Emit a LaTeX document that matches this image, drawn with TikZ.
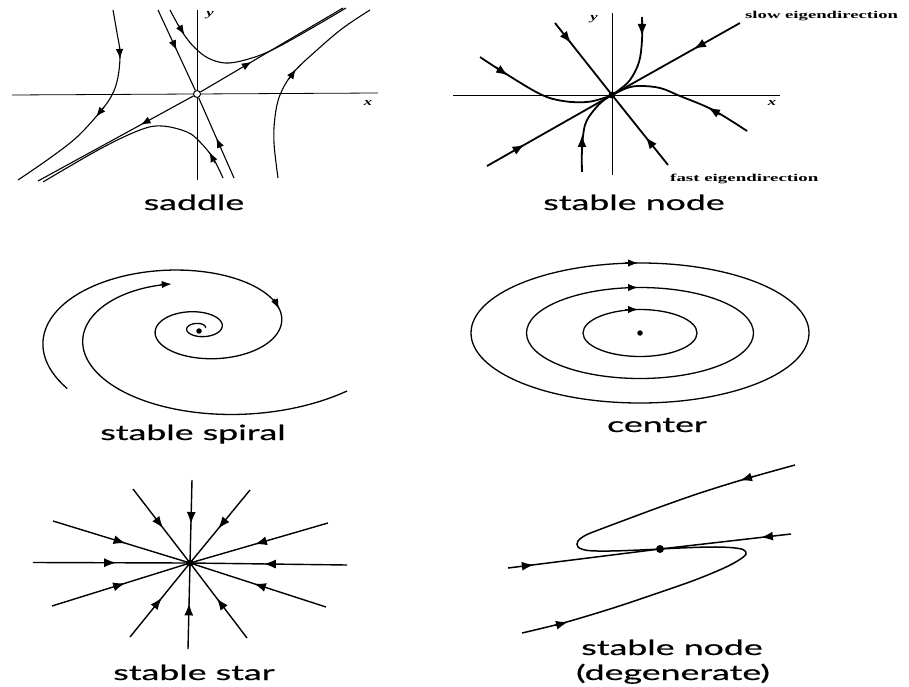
\documentclass[tikz,border=0pt]{standalone}
\usepackage{fontspec}
\usepackage{graphicx}
\setmainfont{Liberation Serif}
\newfontfamily\lblfont[FakeBold=0.5]{Lato}
\usetikzlibrary{arrows.meta,decorations.markings}
\newcommand\wide[2][1.7]{\scalebox{#1}[1]{#2}}
\tikzset{
  ar/.style={postaction={decorate,decoration={markings,mark=at position #1 with {\arrow{Latex[length=10pt,width=7.5pt]}}}}},
  arb/.style={postaction={decorate,decoration={markings,mark=at position #1 with {\arrow{Latex[length=12pt,width=9pt]}}}}},
  atip/.style={-{Latex[length=10pt,width=7.5pt]}},
  btip/.style={-{Latex[length=12pt,width=9pt]}},
  lbl/.style={font=\lblfont\fontsize{21}{24}\selectfont, anchor=base, inner sep=0},
  small/.style={font=\bfseries\fontsize{10.5}{12}\selectfont, anchor=base west, inner sep=0},
  axlbl/.style={font=\bfseries\itshape\fontsize{11}{12}\selectfont, inner sep=0},
  axis/.style={line width=0.8pt},
  thinc/.style={line width=1.1pt},
  thickc/.style={line width=1.8pt},
  midc/.style={line width=1.3pt},
  opendot/.style={circle, draw, fill=white, line width=1pt, inner sep=0, minimum size=7pt},
  dot/.style={circle, fill=black, inner sep=0, minimum size=#1},
}
\begin{document}
\begin{tikzpicture}[x=1pt,y=-1pt]
\useasboundingbox (0,0) rectangle (909,687);

% ---------------- saddle ----------------
\draw[axis] (12,95) -- (378,93);
\draw[axis] (197,10) -- (197,180);
\node[axlbl] (Sy) at (210,15) {\wide[1.5]{y}};
\node[axlbl] (Sx) at (368,103) {\wide[1.5]{x}};
\node[opendot] (SO) at (197,94) {};
\coordinate (SsA) at (158,10);
\coordinate (SsB) at (234,178);
\coordinate (SuA) at (343,8);
\coordinate (SuB) at (38,181);
\draw[thinc,ar=0.5] (SsA) -- (SO);
\draw[thinc,ar=0.5] (SsB) -- (SO);
\draw[thinc,ar=0.36] (SO) -- (SuA);
\draw[thinc,ar=0.34] (SO) -- (SuB);
\draw[thinc] plot[smooth,tension=0.6] coordinates {(170,10) (177,23) (185,36) (195,48) (208,58) (225,63) (245,60) (270,51) (305,32) (346,8)};
\draw[thinc,atip] (178.5,25) -- (184.5,35);
\draw[thinc] plot[smooth,tension=0.6] coordinates {(223,178) (213,158) (200,142) (187,132) (162,126) (140,130) (100,149) (43,182)};
\draw[thinc,atip] (215,163) -- (209.5,152);
\draw[thinc] plot[smooth,tension=0.6] coordinates {(113,10) (117,33) (120,53) (118,77) (112,95) (100,112) (77,137) (50,158) (18,180)};
\draw[thinc,atip] (119.5,47) -- (120,59);
\draw[thinc,atip] (104,107) -- (96,117);
\draw[thinc] plot[smooth,tension=0.6] coordinates {(278,178) (274,143) (275,117) (280,95) (293,73) (317,50) (343,28) (370,10)};
\draw[thinc,atip] (289,79) -- (296,69);
\node[lbl] (Lsaddle) at (194,210) {\wide{saddle}};

% ---------------- stable node ----------------
\draw[axis] (453,95) -- (780,95);
\draw[axis] (612,13) -- (612,175);
\node[axlbl] (Ny) at (594,19) {\wide[1.5]{y}};
\node[axlbl] (Nx) at (772,103) {\wide[1.5]{x}};
\node[dot=7pt] (NO) at (612,95) {};
\coordinate (NslA) at (487,166);
\coordinate (NslB) at (740,23);
\coordinate (NfA) at (555,23);
\coordinate (NfB) at (668,165);
\draw[thickc,arb=0.3] (NslA) -- (NO.center);
\draw[thickc,arb=0.36] (NslB) -- (NO.center);
\draw[thickc,arb=0.28] (NfA) -- (NO.center);
\draw[thickc,arb=0.4] (NfB) -- (NO.center);
\draw[thickc] plot[smooth,tension=0.6] coordinates {(642,17) (642,40) (639,62) (630,80) (619,90) (612,95)};
\draw[thickc,btip] (642,23) -- (642,36);
\draw[thickc] plot[smooth,tension=0.6] coordinates {(582,172) (582,150) (585,125) (594,110) (604,100) (612,95)};
\draw[thickc,btip] (582,149) -- (582,135);
\draw[thickc] plot[smooth,tension=0.6] coordinates {(480,57) (503,72) (540,94) (563,101) (587,102) (604,98) (612,95)};
\draw[thickc,btip] (496,67.5) -- (508,75.5);
\draw[thickc] plot[smooth,tension=0.6] coordinates {(747,131) (713,110) (680,96) (660,88) (640,86) (627,88) (612,95)};
\draw[thickc,btip] (720,114.5) -- (708,107.5);
\node[small] (Nslow) at (745,19) {\wide[1.78]{slow eigendirection}};
\node[small] (Nfast) at (670,181) {\wide[1.8]{fast eigendirection}};
\node[lbl] (Lnode) at (634,210) {\wide{stable node}};

% ---------------- stable spiral ----------------
\draw[midc]
  plot[domain=138:1080,samples=320,variable=\t] ({199+153*exp(-0.003526*(\t-180))*cos(\t)},{328+78*exp(-0.003526*(\t-180))*sin(\t)});
\draw[midc,atip] (274.2,299) -- (279,309);
\draw[midc]
  plot[domain=38:247,samples=80,variable=\t] ({199+114*exp(-0.003526*(\t-180))*cos(\t)},{329+61*exp(-0.003526*(\t-180))*sin(\t)});
\draw[midc,atip] (160.7,284.6) -- (171.7,284);
\node[dot=5.5pt] (SpO) at (199,331) {};
\node[lbl] (Lspiral) at (193,440) {\wide{stable spiral}};

% ---------------- center ----------------
\node[dot=5.5pt] (CO) at (640,333) {};
\draw[midc] (CO.center) ellipse[x radius=57,y radius=23.5];
\draw[midc] (CO.center) ellipse[x radius=113.5,y radius=45.5];
\draw[midc] (CO.center) ellipse[x radius=169,y radius=70];
\draw[midc,atip] (625,309.5) -- (638,309.5);
\draw[midc,atip] (625,287.5) -- (638,287.5);
\draw[midc,atip] (625,263) -- (638,263);
\node[lbl] (Lcenter) at (657,432) {\wide{center}};

% ---------------- stable star ----------------
\node[dot=7pt] (St) at (190,563) {};
\foreach \p in {(192,480),(188,649),(33,562.5),(347,565),(133,489),(247,638),(250,490),(130,637),(53,521),(326,607),(328,523),(52,606)}
  \draw[line width=1.4pt,arb=0.53] \p -- (St.center);
\node[lbl] (Lstar) at (194,680) {\wide{stable star}};

% ---------------- degenerate node ----------------
\node[dot=8pt] (DO) at (660,549) {};
\coordinate (DA) at (508,568);
\coordinate (DB) at (791,534);
\draw[line width=1.5pt,arb=0.17] (DA) -- (DO.center);
\draw[line width=1.5pt,arb=0.23] (DB) -- (DO.center);
\draw[line width=1.5pt] plot[smooth,tension=0.55] coordinates {(795,465) (745,479) (700,493) (660,507) (625,520) (601,529) (586,535) (578,541) (578,547) (588,550.5) (610,551) (640,550) (660,549)};
\draw[line width=1.5pt,btip] (753,476.5) -- (740,480.5);
\draw[line width=1.5pt] plot[smooth,tension=0.55] coordinates {(522,633) (563,623) (610,609) (655,594) (695,580) (724,568) (739,560) (746,554) (743,549.5) (730,547.5) (710,547) (680,548) (660,549)};
\draw[line width=1.5pt,btip] (555,625.5) -- (568,622);
\node[lbl] (Ldeg1) at (672,655) {\wide{stable node}};
\node[lbl] (Ldeg2) at (673,680) {\wide{(degenerate)}};
\end{tikzpicture}
\end{document}
